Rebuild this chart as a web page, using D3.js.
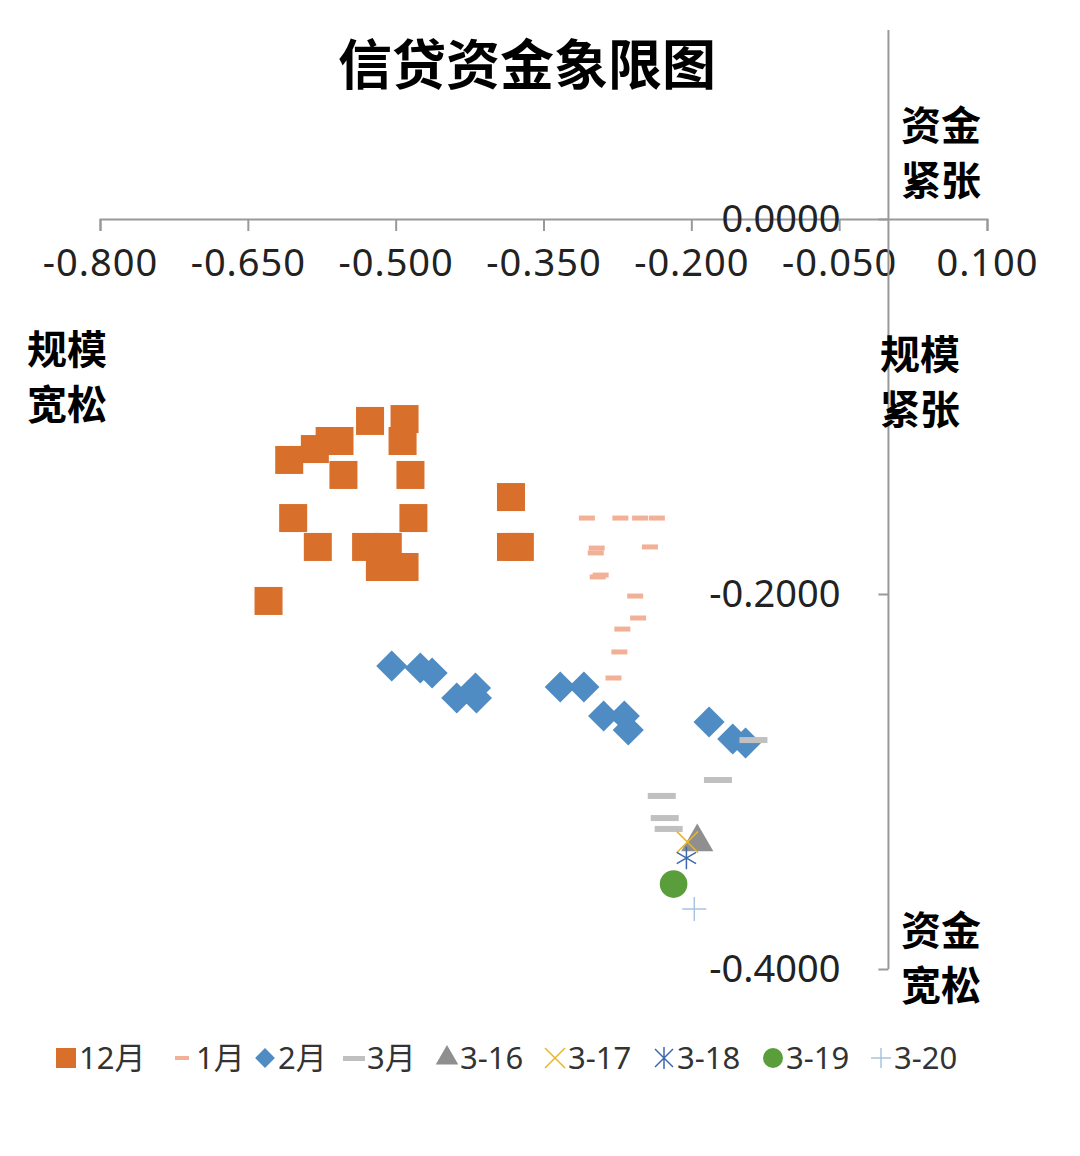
<!DOCTYPE html><html><head><meta charset="utf-8"><script src="https://cdn.jsdelivr.net/npm/d3@7"></script>
<style>body{margin:0;background:#fff}svg{font-family:"Noto Sans CJK SC","Noto Sans",sans-serif}</style></head><body><svg id="c" width="1080" height="1156"></svg>
<script>
const xTicks=[-0.8,-0.65,-0.5,-0.35,-0.2,-0.05,0.1];
const yTicks=[0,-0.2,-0.4];
const dec=[[-0.526,-0.1077],[-0.491,-0.1067],[-0.567,-0.1184],[-0.557,-0.1184],[-0.582,-0.1227],[-0.493,-0.1184],[-0.608,-0.1285],[-0.553,-0.1365],[-0.485,-0.1365],[-0.604,-0.1595],[-0.482,-0.1595],[-0.579,-0.1749],[-0.530,-0.1749],[-0.508,-0.1749],[-0.516,-0.1856],[-0.491,-0.1856],[-0.629,-0.2037],[-0.383,-0.1483],[-0.383,-0.1749],[-0.374,-0.1749]];
const jan=[[-0.306,-0.1595],[-0.272,-0.1595],[-0.252,-0.1595],[-0.235,-0.1595],[-0.296,-0.1755],[-0.297,-0.1781],[-0.242,-0.1749],[-0.292,-0.1899],[-0.295,-0.1909],[-0.257,-0.2011],[-0.254,-0.2128],[-0.270,-0.2187],[-0.273,-0.2309],[-0.279,-0.2448]];
const feb=[[-0.504,-0.2384],[-0.475,-0.2395],[-0.463,-0.2421],[-0.438,-0.2555],[-0.419,-0.2501],[-0.418,-0.2555],[-0.333,-0.2496],[-0.309,-0.2496],[-0.289,-0.2651],[-0.268,-0.2651],[-0.264,-0.2725],[-0.182,-0.2683],[-0.158,-0.2773],[-0.145,-0.2795]];
const mar=[[-0.137,-0.2779],[-0.173,-0.2992],[-0.230,-0.3077],[-0.227,-0.3195],[-0.223,-0.3253]];
const d316=[[-0.194,-0.3323]],d317=[[-0.204,-0.3323]],d318=[[-0.205,-0.3408]],d319=[[-0.218,-0.3547]],d320=[[-0.197,-0.368]];
const svg=d3.select("#c");
const x=d3.scaleLinear().domain([-0.8,0.1]).range([100,987]);
const y=d3.scaleLinear().domain([0,-0.4]).range([219,969]);
const ax="#999";
svg.append("text").attr("x",527).attr("y",85).attr("text-anchor","middle").attr("font-size",54).attr("font-weight","bold").text("信贷资金象限图");
svg.append("g").attr("transform","translate(0,219)").call(d3.axisBottom(x).tickValues(xTicks).tickSize(12).tickFormat(d=>d3.format(".3f")(d).replace("−","-")))
 .call(g=>{g.select(".domain").attr("stroke",ax).attr("stroke-width",2);g.selectAll("line").attr("stroke",ax).attr("stroke-width",2);g.selectAll("text").attr("font-size",38).attr("fill","#222").attr("dy","1.1em").attr("letter-spacing",1).attr("font-family","Noto Sans, sans-serif");});
svg.append("line").attr("x1",x(0)).attr("x2",x(0)).attr("y1",30).attr("y2",y(-0.4)).attr("stroke",ax).attr("stroke-width",2);
svg.append("g").attr("transform",`translate(${x(0)},0)`).call(d3.axisLeft(y).tickValues(yTicks).tickSize(10).tickFormat(d=>d3.format(".4f")(d).replace("−","-")))
 .call(g=>{g.select(".domain").remove();g.selectAll("line").attr("stroke",ax).attr("stroke-width",2);g.selectAll("text").attr("font-size",38).attr("fill","#222").attr("x",-48).attr("font-family","Noto Sans, sans-serif");});
const lab=(t,xx,yy)=>svg.append("text").attr("x",xx).attr("y",yy).attr("text-anchor","middle").attr("font-size",40).attr("font-weight","bold").text(t);
lab("资金",941,140);lab("紧张",941,195);lab("规模",67,364);lab("宽松",67,419);lab("规模",920,369);lab("紧张",920,424);lab("资金",941,945);lab("宽松",941,1000);
const g=svg.append("g");
g.selectAll(".d").data(dec).join("rect").attr("x",d=>x(d[0])-14).attr("y",d=>y(d[1])-14).attr("width",28).attr("height",28).attr("fill","#d86f2b");
g.selectAll(".j").data(jan).join("rect").attr("x",d=>x(d[0])-8).attr("y",d=>y(d[1])-2.5).attr("width",16).attr("height",5).attr("fill","#f2b197");
g.selectAll(".f").data(feb).join("rect").attr("x",-11).attr("y",-11).attr("width",22).attr("height",22).attr("fill","#4f8cc3").attr("transform",d=>`translate(${x(d[0])},${y(d[1])}) rotate(45)`);
g.selectAll(".m").data(mar).join("rect").attr("x",d=>x(d[0])-14).attr("y",d=>y(d[1])-3).attr("width",28).attr("height",6).attr("fill","#c0c0c0");
const sym=(data,type,size,fill,stroke)=>g.selectAll(null).data(data).join("path").attr("d",d3.symbol(type,size)).attr("transform",d=>`translate(${x(d[0])},${y(d[1])})`).attr("fill",fill).attr("stroke",stroke).attr("stroke-width",1.5);
sym(d316,d3.symbolTriangle,450,"#8f8f8f","none");
sym(d317,d3.symbolX,300,"none","#e8b52a");
sym(d318,d3.symbolAsterisk,350,"none","#3d68b0");
sym(d319,d3.symbolCircle,600,"#5a9e3c","none");
g.selectAll(".p").data(d320).join("path").attr("d","M-12,0H12M0,-12V12").attr("transform",d=>`translate(${x(d[0])},${y(d[1])})`).attr("stroke","#a8c4e0").attr("stroke-width",1.5);
const leg=[["12月","sq"],["1月","dash1"],["2月","dia"],["3月","dash3"],["3-16","tri"],["3-17","x"],["3-18","ast"],["3-19","cir"],["3-20","plus"]];
const lx=[55,172,254,343,436,544,653,762,870];
leg.forEach((l,i)=>{const cx=lx[i]+11,cy=1058;
 if(l[1]=="sq")svg.append("rect").attr("x",cx-10).attr("y",cy-10).attr("width",20).attr("height",20).attr("fill","#d86f2b");
 else if(l[1]=="dash1")svg.append("rect").attr("x",cx-8).attr("y",cy-2).attr("width",14).attr("height",4).attr("fill","#f2b197");
 else if(l[1]=="dia")svg.append("rect").attr("x",-7).attr("y",-7).attr("width",14).attr("height",14).attr("fill","#4f8cc3").attr("transform",`translate(${cx},${cy}) rotate(45)`);
 else if(l[1]=="dash3")svg.append("rect").attr("x",cx-11).attr("y",cy-2).attr("width",22).attr("height",5).attr("fill","#c0c0c0");
 else if(l[1]=="tri")svg.append("path").attr("d",d3.symbol(d3.symbolTriangle,220)()).attr("transform",`translate(${cx},${cy})`).attr("fill","#8f8f8f");
 else if(l[1]=="x")svg.append("path").attr("d","M-10,-10L10,10M-10,10L10,-10").attr("transform",`translate(${cx},${cy})`).attr("stroke","#e8b52a").attr("stroke-width",1.5);
 else if(l[1]=="ast")svg.append("path").attr("d","M-9,-9L9,9M-9,9L9,-9M0,-11V11").attr("transform",`translate(${cx},${cy})`).attr("stroke","#3d68b0").attr("stroke-width",1.5);
 else if(l[1]=="cir")svg.append("circle").attr("cx",cx).attr("cy",cy).attr("r",10).attr("fill","#5a9e3c");
 else svg.append("path").attr("d","M-10,0H10M0,-10V10").attr("transform",`translate(${cx},${cy})`).attr("stroke","#a8c4e0").attr("stroke-width",1.5);
 svg.append("text").attr("x",lx[i]+24).attr("y",cy+11).attr("font-size",31).attr("fill","#333").attr("font-family","Noto Sans, Noto Sans CJK SC, sans-serif").text(l[0]);
});
</script></body></html>
